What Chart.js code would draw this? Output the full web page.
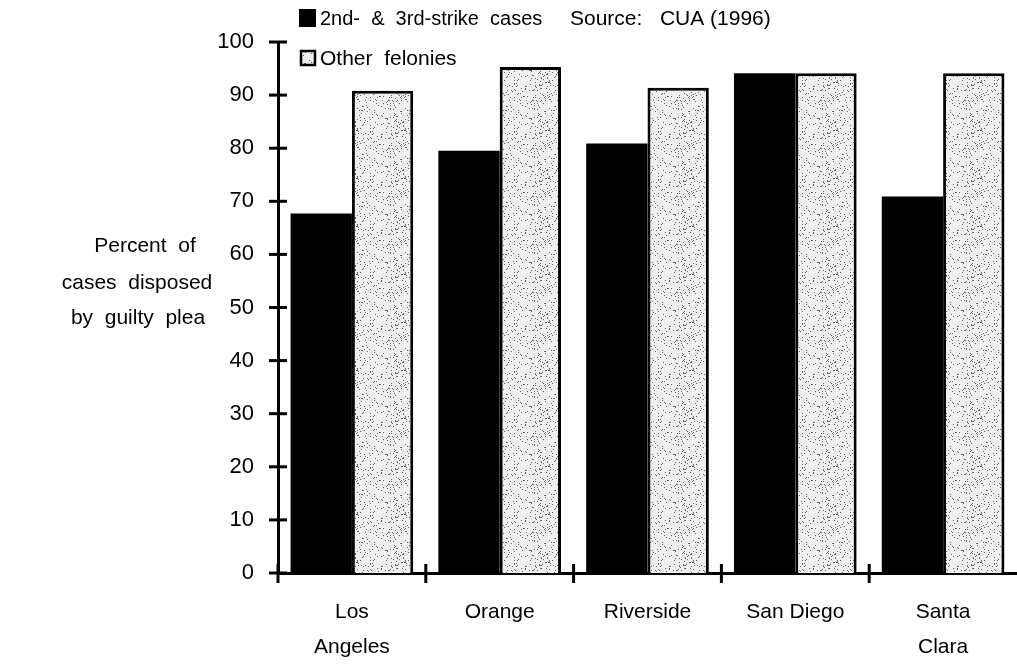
<!DOCTYPE html>
<html>
<head>
<meta charset="utf-8">
<script src="https://cdn.jsdelivr.net/npm/chart.js@4"></script>
<style>
  html, body { margin: 0; padding: 0; background: #fff; }
  #wrap { width: 1017px; height: 667px; position: relative; }
</style>
</head>
<body>
<div id="wrap"><canvas id="pleaChart" width="1017" height="667"></canvas></div>
<script>
// data
const counties = [['Los', 'Angeles'], 'Orange', 'Riverside', 'San Diego', ['Santa', 'Clara']];
const strikeCases = [67.7, 79.5, 80.9, 94.1, 70.9];
const otherFelonies = [90.8, 95.3, 91.4, 94.1, 94.1];
const yTicks = [0, 10, 20, 30, 40, 50, 60, 70, 80, 90, 100];

const FONT = '"Liberation Sans", Arial, sans-serif';

// stipple fill for the "other felonies" bars
function stipple() {
  const c = document.createElement('canvas');
  c.width = 48; c.height = 48;
  const g = c.getContext('2d');
  g.fillStyle = '#efefef';
  g.fillRect(0, 0, 48, 48);
  g.fillStyle = '#666';
  for (let x = 0; x < 48; x++) {
    for (let y = 0; y < 48; y++) {
      if (((x * 37 + y * 91) ^ (x * y + 5)) % 13 === 0) g.fillRect(x, y, 1, 1);
    }
  }
  return g.createPattern(c, 'repeat');
}

// ticks that cross the axes + legend + y title
const decorations = {
  id: 'decorations',
  afterDraw(chart) {
    const ctx = chart.ctx;
    const x = chart.scales.x, y = chart.scales.y;
    const area = chart.chartArea;
    ctx.save();
    ctx.strokeStyle = '#000';
    ctx.lineWidth = 3;
    // y ticks, both sides of the axis
    yTicks.forEach(v => {
      const py = y.getPixelForValue(v);
      ctx.beginPath();
      ctx.moveTo(area.left - 9, py);
      ctx.lineTo(area.left + 9, py);
      ctx.stroke();
    });
    // x ticks at category boundaries
    for (let i = 1; i < counties.length; i++) {
      const px = (x.getPixelForValue(i - 1) + x.getPixelForValue(i)) / 2;
      ctx.beginPath();
      ctx.moveTo(px, area.bottom - 9);
      ctx.lineTo(px, area.bottom + 10);
      ctx.stroke();
    }
    ctx.beginPath();
    ctx.moveTo(area.left, area.bottom - 9);
    ctx.lineTo(area.left, area.bottom + 10);
    ctx.stroke();

    // legend
    ctx.fillStyle = '#000';
    ctx.fillRect(299, 9, 17, 18);
    ctx.fillStyle = stipplePattern;
    ctx.fillRect(301, 51, 14, 14);
    ctx.lineWidth = 2.5;
    ctx.strokeRect(301, 51, 14, 14);
    ctx.fillStyle = '#000';
    ctx.textBaseline = 'middle';
    ctx.textAlign = 'left';
    ctx.font = '20px ' + FONT;
    ctx.fillText('2nd-  &  3rd-strike  cases', 320, 19);
    ctx.font = '21px ' + FONT;
    ctx.fillText('Source:   CUA (1996)', 570, 19);
    ctx.fillText('Other  felonies', 320, 59);

    // y axis title
    ctx.textAlign = 'center';
    ctx.fillText('Percent  of', 145, 246);
    ctx.fillText('cases  disposed', 137, 283);
    ctx.fillText('by  guilty  plea', 138, 318);
    ctx.restore();
  }
};

const stipplePattern = stipple();

const ctx = document.getElementById('pleaChart').getContext('2d');
const pleaChart = new Chart(ctx, {
  type: 'bar',
  data: {
    labels: counties,
    datasets: [{
      label: '2nd- & 3rd-strike cases',
      data: strikeCases,
      backgroundColor: '#000',
      borderWidth: 0,
      categoryPercentage: 0.83,
      barPercentage: 1.0
    }, {
      label: 'Other felonies',
      data: otherFelonies,
      backgroundColor: stipplePattern,
      borderColor: '#000',
      borderWidth: 3,
      categoryPercentage: 0.83,
      barPercentage: 1.0
    }]
  },
  options: {
    responsive: false,
    animation: false,
    layout: { padding: { top: 42, right: 0, left: 0, bottom: 0 } },
    plugins: {
      legend: { display: false },
      tooltip: { enabled: false }
    },
    scales: {
      x: {
        grid: { display: false },
        border: { color: '#000', width: 3 },
        ticks: {
          color: '#000',
          font: { family: FONT, size: 21, lineHeight: 1.65 },
          padding: 14,
          maxRotation: 0,
          autoSkip: false
        },
        afterFit: s => { s.height = 94; }
      },
      y: {
        min: 0,
        max: 100,
        afterBuildTicks: s => { s.ticks = yTicks.map(v => ({ value: v })); },
        grid: { display: false },
        border: { color: '#000', width: 3 },
        ticks: {
          color: '#000',
          font: { family: FONT, size: 22 },
          padding: 16
        },
        afterFit: s => { s.width = 278; }
      }
    }
  },
  plugins: [decorations]
});
</script>
</body>
</html>
